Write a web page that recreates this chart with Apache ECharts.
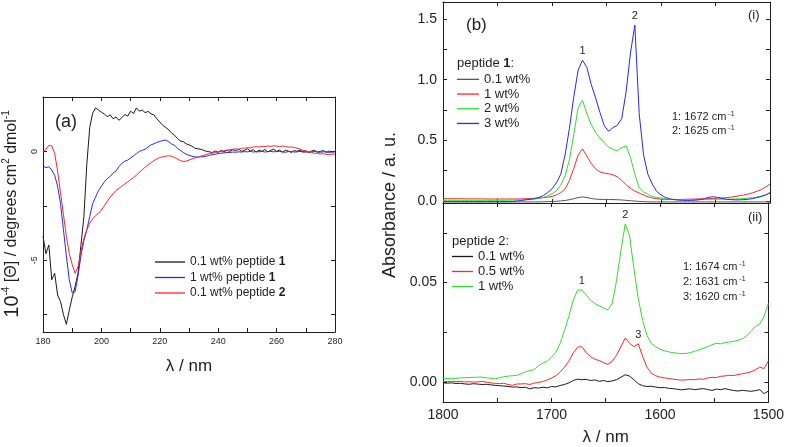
<!DOCTYPE html>
<html><head><meta charset="utf-8">
<script src="https://cdn.jsdelivr.net/npm/echarts@6/dist/echarts.min.js"></script>
<style>html,body{margin:0;padding:0;background:#fff}#c{width:787px;height:447px}</style>
</head><body><div id="c"></div>
<script>
// ---------- Panel (a): CD spectra ----------
const lambdaA = [180,181,182,183,184,185,186,187,188,189,
 190,191,192,193,194,195,196,197,198,199,
 200,201,202,203,204,205,206,207,208,209,
 210,211,212,213,214,215,216,217,218,219,
 220,221,222,223,224,225,226,227,228,229,
 230,231,232,233,234,235,236,237,238,239,
 240,241,242,243,244,245,246,247,248,249,
 250,251,252,253,254,255,256,257,258,259,
 260,261,262,263,264,265,266,267,268,269,
 270,271,272,273,274,275,276,277,278,279,280];
const cdBlack = [-3.9,-4.7,-4.3,-5.9,-5.6,-6.6,-6.9,-7.5,-7.95,-7.3,
 -6.7,-6.2,-5.6,-4.3,-3.0,-0.6,1.1,1.75,2.0,1.9,
 1.8,1.72,1.6,1.68,1.5,1.58,1.43,1.55,1.7,1.62,
 1.85,1.74,2.0,1.85,1.9,1.78,1.84,1.72,1.68,1.5,
 1.35,1.2,1.1,1.0,0.85,0.75,0.6,0.48,0.45,0.35,
 0.3,0.24,0.15,0.12,0.1,0.05,0.0,-0.02,-0.05,0.02,
 -0.05,0.05,-0.03,0.06,0.0,0.08,0.03,0.1,0.0,0.05,
 0.12,0.02,0.08,-0.03,0.06,0.0,0.09,-0.02,0.05,0.1,
 0.0,0.06,-0.04,0.05,0.02,-0.05,0.04,0.0,0.06,-0.03,
 0.03,-0.06,0.02,0.05,-0.04,0.0,0.04,-0.05,0.02,-0.03,0.0];
const cdBlue = [-0.65,-0.75,-0.7,-0.85,-1.1,-1.6,-2.4,-3.6,-4.8,-5.9,
 -6.5,-6.45,-5.7,-4.8,-4.1,-3.6,-3.0,-2.4,-2.1,-1.8,
 -1.6,-1.4,-1.25,-1.15,-1.0,-0.9,-0.7,-0.55,-0.45,-0.4,
 -0.3,-0.2,-0.1,0.0,0.05,0.1,0.2,0.3,0.35,0.42,
 0.45,0.5,0.52,0.45,0.35,0.28,0.15,0.05,-0.05,-0.12,
 -0.18,-0.22,-0.25,-0.26,-0.25,-0.24,-0.22,-0.18,-0.15,-0.13,
 -0.1,-0.08,-0.07,-0.05,-0.05,-0.03,-0.04,-0.02,-0.03,-0.01,
 -0.02,0.0,-0.03,-0.01,-0.02,0.0,-0.03,-0.01,0.0,-0.02,
 -0.01,0.0,-0.02,-0.04,-0.01,0.0,-0.03,-0.02,0.0,-0.02,
 -0.04,-0.01,-0.03,0.0,-0.02,-0.04,-0.02,-0.01,-0.05,-0.02,-0.03];
const cdRed = [0.0,0.1,0.28,0.25,-0.1,-0.9,-1.9,-2.9,-3.9,-4.7,
 -5.2,-5.6,-5.3,-4.6,-4.0,-3.6,-3.3,-3.1,-2.95,-2.85,
 -2.7,-2.5,-2.3,-2.1,-1.95,-1.8,-1.7,-1.6,-1.5,-1.4,
 -1.3,-1.2,-1.1,-0.95,-0.85,-0.72,-0.62,-0.52,-0.42,-0.35,
 -0.28,-0.25,-0.22,-0.2,-0.22,-0.28,-0.35,-0.42,-0.46,-0.45,
 -0.4,-0.35,-0.3,-0.27,-0.22,-0.18,-0.14,-0.1,-0.08,-0.05,
 -0.02,0.0,0.03,0.05,0.08,0.1,0.12,0.1,0.14,0.15,
 0.17,0.16,0.2,0.22,0.2,0.24,0.22,0.25,0.23,0.26,
 0.24,0.22,0.25,0.22,0.2,0.2,0.18,0.15,0.1,0.05,
 0.02,-0.02,-0.05,-0.08,-0.1,-0.12,-0.1,-0.14,-0.15,-0.12,-0.13];
const namesA = ['0.1 wt% peptide 1','1 wt% peptide 1','0.1 wt% peptide 2'];
const xLabelsA = [180,200,220,240,260,280];
const xTicksA = [180,190,200,210,220,230,240,250,260,270,280];
const yLabelsA = [-5,0];
const yTicksA = [-7.5,-5,-2.5,0,2.5];

// ---------- Panel (b): IR spectra ----------
const wnB = [1800,1796,1792,1788,1784,1780,1776,1772,1768,1764,
 1760,1756,1752,1748,1744,1740,1736,1732,1728,1724,
 1720,1716,1712,1708,1704,1700,1696,1692,1688,1684,
 1680,1676,1672,1668,1664,1660,1656,1652,1648,1644,
 1640,1636,1632,1628,1624,1620,1616,1612,1608,1604,
 1600,1596,1592,1588,1584,1580,1576,1572,1568,1564,
 1560,1556,1552,1548,1544,1540,1536,1532,1528,1524,
 1520,1516,1512,1508,1504,1500];
const ir1Black = [-0.007,-0.007,-0.007,-0.007,-0.007,-0.007,-0.007,-0.007,-0.007,-0.007,
 -0.007,-0.007,-0.007,-0.007,-0.007,-0.007,-0.007,-0.007,-0.007,-0.007,
 -0.007,-0.007,-0.007,-0.006,-0.005,-0.004,-0.002,0.001,0.005,0.011,
 0.019,0.029,0.034,0.029,0.021,0.016,0.014,0.013,0.013,0.012,
 0.011,0.009,0.006,0.003,0.0,-0.003,-0.005,-0.006,-0.007,-0.007,
 -0.007,-0.007,-0.007,-0.007,-0.007,-0.007,-0.007,-0.007,-0.007,-0.007,
 -0.007,-0.007,-0.007,-0.007,-0.007,-0.007,-0.007,-0.007,-0.007,-0.007,
 -0.007,-0.007,-0.007,-0.007,-0.007,-0.007];
const ir1Red = [0.02,0.02,0.019,0.019,0.019,0.018,0.018,0.018,0.018,0.018,
 0.017,0.017,0.017,0.017,0.017,0.017,0.017,0.017,0.018,0.019,
 0.02,0.022,0.025,0.028,0.032,0.038,0.05,0.07,0.1,0.17,
 0.27,0.38,0.43,0.37,0.31,0.265,0.24,0.23,0.225,0.215,
 0.2,0.17,0.135,0.105,0.082,0.066,0.05,0.035,0.026,0.02,
 0.016,0.014,0.013,0.013,0.013,0.014,0.015,0.016,0.017,0.018,
 0.019,0.02,0.021,0.023,0.025,0.028,0.032,0.037,0.043,0.05,
 0.058,0.068,0.08,0.095,0.115,0.14];
const ir1Green = [0.006,0.006,0.006,0.006,0.006,0.006,0.006,0.006,0.006,0.006,
 0.006,0.006,0.006,0.006,0.006,0.007,0.008,0.009,0.01,0.012,
 0.014,0.017,0.021,0.03,0.042,0.06,0.085,0.13,0.21,0.34,
 0.55,0.77,0.83,0.72,0.63,0.565,0.52,0.48,0.445,0.425,
 0.415,0.44,0.455,0.36,0.22,0.11,0.075,0.055,0.037,0.03,
 0.025,0.02,0.015,0.012,0.01,0.01,0.01,0.01,0.011,0.012,
 0.013,0.014,0.015,0.015,0.015,0.015,0.016,0.017,0.019,0.021,
 0.024,0.028,0.033,0.04,0.05,0.065];
const ir1Blue = [-0.005,-0.005,-0.005,-0.005,-0.005,-0.005,-0.005,-0.005,-0.005,-0.005,
 -0.005,-0.005,-0.005,-0.005,-0.005,-0.005,-0.003,0.0,0.005,0.01,
 0.015,0.02,0.03,0.045,0.07,0.1,0.15,0.22,0.38,0.6,
 0.86,1.08,1.16,1.1,0.96,0.85,0.73,0.62,0.575,0.605,
 0.625,0.68,0.9,1.22,1.45,0.72,0.38,0.22,0.14,0.08,
 0.05,0.03,0.018,0.012,0.008,0.006,0.005,0.006,0.008,0.012,
 0.02,0.032,0.035,0.03,0.022,0.015,0.012,0.01,0.01,0.012,
 0.015,0.02,0.028,0.038,0.05,0.07];
const ir2Black = [-0.0004,-0.0005,-0.0004,-0.0007,-0.0006,-0.0009,-0.0011,-0.0008,-0.001,-0.0012,
 -0.0011,-0.0014,-0.0016,-0.0018,-0.002,-0.0022,-0.0025,-0.0024,-0.0028,-0.0026,
 -0.0034,-0.0028,-0.003,-0.0026,-0.0029,-0.0022,-0.0024,-0.0017,-0.0012,-0.0004,
 0.0008,0.0015,0.0012,0.0014,0.0008,0.0011,0.0004,0.0008,0.0002,0.0006,
 0.0012,0.0024,0.0037,0.003,0.0012,-0.0008,-0.0018,-0.0022,-0.0021,-0.0025,
 -0.0028,-0.0027,-0.0031,-0.0033,-0.0036,-0.0039,-0.0036,-0.0034,-0.0038,-0.0035,
 -0.0033,-0.0037,-0.0042,-0.0035,-0.0038,-0.0033,-0.0038,-0.0042,-0.0045,-0.0041,
 -0.0044,-0.0046,-0.0043,-0.0038,-0.0058,-0.0045];
const ir2Red = [0.0003,0.0002,0.0004,0.0002,0.0003,0.0001,0.0002,0.0,0.0001,0.0003,
 0.0,-0.0004,-0.0006,-0.0008,-0.0006,-0.0012,-0.0016,-0.001,-0.0009,-0.0008,
 -0.0012,-0.0005,-0.0002,0.0003,0.001,0.002,0.0032,0.005,0.0075,0.0105,
 0.0145,0.0175,0.0178,0.0148,0.0128,0.0115,0.0108,0.0098,0.0089,0.0105,
 0.0135,0.0178,0.0222,0.0195,0.0178,0.0192,0.013,0.0075,0.0045,0.0032,
 0.0025,0.0021,0.0018,0.0015,0.0012,0.001,0.0011,0.0013,0.0012,0.0016,
 0.0014,0.0021,0.0024,0.0023,0.0029,0.0031,0.0034,0.0033,0.0038,0.0042,
 0.0046,0.0052,0.0062,0.0075,0.0068,0.0107];
const ir2Green = [0.0017,0.0018,0.0017,0.0019,0.0021,0.0022,0.0023,0.0024,0.0025,0.0025,
 0.0022,0.0019,0.0016,0.0022,0.0027,0.003,0.0032,0.0034,0.0042,0.0052,
 0.0058,0.0062,0.0083,0.0095,0.0105,0.0125,0.015,0.0195,0.026,0.033,
 0.041,0.0462,0.0463,0.0438,0.0412,0.0395,0.0383,0.0372,0.0362,0.0395,
 0.051,0.066,0.0795,0.0735,0.057,0.042,0.031,0.0235,0.0195,0.0178,
 0.0165,0.0158,0.0152,0.0148,0.0145,0.0143,0.0144,0.0148,0.0155,0.0162,
 0.017,0.0178,0.0188,0.0195,0.0192,0.0198,0.0202,0.0205,0.021,0.0218,
 0.0232,0.0255,0.028,0.0292,0.033,0.0396];
const namesB1 = ['0.1 wt%','1 wt%','2 wt%','3 wt%'];
const namesB2 = ['0.1 wt%','0.5 wt%','1 wt%'];
const peaksB1 = [{label:'1', wn:1672}, {label:'2', wn:1624}];
const peaksB2 = [{label:'1', wn:1672, s:'green'}, {label:'2', wn:1632, s:'green'}, {label:'3', wn:1620, s:'red'}];
const notesB1 = ['1: 1672 cm', '2: 1625 cm'];
const notesB2 = ['1: 1674 cm', '2: 1631 cm', '3: 1620 cm'];
const xLabelsB = [1800,1700,1600,1500];
const xTicksB = [1800,1750,1700,1650,1600,1550,1500];
const yLabelsB1 = [0,0.5,1.0,1.5];
const yTicksB1 = [0,0.25,0.5,0.75,1.0,1.25,1.5];
const yLabelsB2 = [0,0.05];
const yTicksB2 = [0,0.025,0.05,0.075];

// ---------- build ----------
const FONT = "'Liberation Sans', Arial, sans-serif";
const INK = '#1e1e1e';
const C = {black:'#1a1a1a', gray:'#555555', red:'#ff2626', blue:'#2626ff', green:'#2ee02e'};
const pairs = (xs, ys) => xs.map((x, i) => [x, ys[i]]);

function axis(opt) {
  return {
    type: 'value', gridIndex: opt.grid, position: opt.pos, min: opt.min, max: opt.max,
    inverse: !!opt.inverse,
    axisLine: {show: true, onZero: false, lineStyle: {color: INK, width: 1}},
    axisTick: {show: true, inside: true, length: 4, customValues: opt.ticks, lineStyle: {color: INK, width: 1}},
    axisLabel: opt.labels ? {show: true, customValues: opt.labels, fontSize: opt.fs, fontFamily: FONT, color: INK,
      margin: opt.margin, rotate: opt.rotate || 0, formatter: opt.fmt || (v => String(v))} : {show: false},
    splitLine: {show: false}
  };
}

const xAxes = [
  axis({grid:0, pos:'bottom', min:180, max:280, ticks:xTicksA, labels:xLabelsA, fs:9, margin:5}),
  axis({grid:0, pos:'top', min:180, max:280, ticks:xTicksA}),
  axis({grid:1, pos:'bottom', min:1500, max:1800, inverse:true, ticks:xTicksB}),
  axis({grid:1, pos:'top', min:1500, max:1800, inverse:true, ticks:xTicksB}),
  axis({grid:2, pos:'bottom', min:1500, max:1800, inverse:true, ticks:xTicksB, labels:xLabelsB, fs:14, margin:6}),
  axis({grid:2, pos:'top', min:1500, max:1800, inverse:true, ticks:xTicksB})
];
xAxes[0].name = 'λ / nm'; xAxes[0].nameLocation = 'middle'; xAxes[0].nameGap = 26;
xAxes[0].nameTextStyle = {fontSize: 17, fontFamily: FONT, color: INK};
xAxes[4].name = 'λ / nm'; xAxes[4].nameLocation = 'middle'; xAxes[4].nameGap = 27;
xAxes[4].nameTextStyle = {fontSize: 17, fontFamily: FONT, color: INK};

const yAxes = [
  axis({grid:0, pos:'left', min:-8.3, max:2.5, ticks:yTicksA, labels:yLabelsA, fs:9, margin:4, rotate:90}),
  axis({grid:0, pos:'right', min:-8.3, max:2.5, ticks:yTicksA}),
  axis({grid:1, pos:'left', min:-0.016, max:1.64, ticks:yTicksB1, labels:yLabelsB1, fs:14, margin:6, fmt: v => v.toFixed(1)}),
  axis({grid:1, pos:'right', min:-0.016, max:1.64, ticks:yTicksB1}),
  axis({grid:2, pos:'left', min:-0.01, max:0.09, ticks:yTicksB2, labels:yLabelsB2, fs:14, margin:6, fmt: v => v.toFixed(2)}),
  axis({grid:2, pos:'right', min:-0.01, max:0.09, ticks:yTicksB2})
];

function line(name, xi, yi, xs, ys, color, extra) {
  return Object.assign({
    type: 'line', name: name, xAxisIndex: xi, yAxisIndex: yi, data: pairs(xs, ys),
    symbol: 'none', showSymbol: false, smooth: false,
    lineStyle: {color: color, width: 1}, itemStyle: {color: color}, z: 3
  }, extra || {});
}

const lookup = (arr, wn) => arr[wnB.indexOf(wn)];
const markLbl = {show: true, position: 'top', distance: 3, formatter: '{b}', fontSize: 11, fontFamily: FONT, color: INK};
const seriesB1 = {black: ir1Black, red: ir1Red, green: ir1Green, blue: ir1Blue};
const seriesB2 = {black: ir2Black, red: ir2Red, green: ir2Green};
function peakMarks(list, src, which) {
  return {
    symbol: 'circle', symbolSize: 1, itemStyle: {color: 'rgba(0,0,0,0)'}, label: markLbl, silent: true,
    data: list.filter(p => (p.s || 'blue') === which).map(p => ({name: p.label, coord: [p.wn, lookup(src[which], p.wn)]}))
  };
}

const series = [
  line('A0', 0, 0, lambdaA, cdBlack, C.black),
  line('A1', 0, 0, lambdaA, cdBlue, C.blue),
  line('A2', 0, 0, lambdaA, cdRed, C.red),
  line('B1_0', 2, 2, wnB, ir1Black, C.gray),
  line('B1_1', 2, 2, wnB, ir1Red, C.red),
  line('B1_2', 2, 2, wnB, ir1Green, C.green),
  line('B1_3', 2, 2, wnB, ir1Blue, C.blue, {markPoint: peakMarks(peaksB1, seriesB1, 'blue')}),
  line('B2_0', 4, 4, wnB, ir2Black, C.black),
  line('B2_1', 4, 4, wnB, ir2Red, C.red, {markPoint: peakMarks(peaksB2, seriesB2, 'red')}),
  line('B2_2', 4, 4, wnB, ir2Green, C.green, {markPoint: peakMarks(peaksB2, seriesB2, 'green')})
];

const legendBase = {orient: 'vertical', selectedMode: false, padding: 0, icon: 'rect', itemHeight: 1.3,
  textStyle: {fontFamily: FONT, color: INK}};
const legends = [
  Object.assign({}, legendBase, {
    data: ['A0','A1','A2'], left: 155, top: 255, itemWidth: 30, itemGap: 1.5,
    formatter: n => { const m = namesA[+n.slice(1)].match(/^(.*peptide )(\d)$/); return '{t|' + m[1] + '}{b|' + m[2] + '}'; },
    textStyle: {fontFamily: FONT, color: INK, fontSize: 12, lineHeight: 14, rich: {t: {fontSize: 12, lineHeight: 14, fontFamily: FONT, color: INK}, b: {fontSize: 12, lineHeight: 14, fontWeight: 'bold', fontFamily: FONT, color: INK}}}
  }),
  Object.assign({}, legendBase, {
    data: ['B1_0','B1_1','B1_2','B1_3'], left: 457, top: 72, itemWidth: 22, itemGap: 0,
    formatter: n => namesB1[+n.split('_')[1]],
    textStyle: {fontFamily: FONT, color: INK, fontSize: 13, lineHeight: 14.7}
  }),
  Object.assign({}, legendBase, {
    data: ['B2_0','B2_1','B2_2'], left: 452, top: 249, itemWidth: 21, itemGap: 0,
    formatter: n => namesB2[+n.split('_')[1]],
    textStyle: {fontFamily: FONT, color: INK, fontSize: 13, lineHeight: 15}
  })
];

function txt(x, y, text, fs, extra) {
  return Object.assign({type: 'text', x: x, y: y, z: 10, silent: true,
    style: {text: text, fontSize: fs, fontFamily: FONT, fill: INK, align: 'left', verticalAlign: 'middle'}}, extra || {});
}
const supRich = {
  n: {fontSize: 11, fontFamily: FONT, fill: INK, color: INK},
  s: {fontSize: 7, fontFamily: FONT, fill: INK, color: INK, verticalAlign: 'top', lineHeight: 12}
};
const graphics = [
  txt(55, 122, '(a)', 18),
  txt(466, 25, '(b)', 17),
  txt(748, 15, '(i)', 13),
  txt(748, 217, '(ii)', 13),
  {type: 'text', x: 457, y: 63, silent: true, style: {text: '{n|peptide }{b|1}{n|:}', fontFamily: FONT, verticalAlign: 'middle',
    rich: {n: {fontSize: 13, fontFamily: FONT, fill: INK}, b: {fontSize: 13, fontWeight: 'bold', fontFamily: FONT, fill: INK}}}},
  txt(452, 241, 'peptide 2:', 13),
  {type: 'text', x: 12, y: 214, rotation: Math.PI / 2, silent: true,
    style: {text: '{big|10}{s|-4}{n| [Θ] / degrees cm}{s|2}{n| dmol}{s|-1}', align: 'center', verticalAlign: 'middle',
      rich: {big: {fontSize: 20, fontFamily: FONT, fill: INK, lineHeight: 22},
             n: {fontSize: 16, fontFamily: FONT, fill: INK, lineHeight: 22},
             s: {fontSize: 10, fontFamily: FONT, fill: INK, verticalAlign: 'top', lineHeight: 22}}}},
  {type: 'text', x: 390, y: 205, rotation: Math.PI / 2, silent: true,
    style: {text: 'Absorbance / a. u.', fontSize: 18, fontFamily: FONT, fill: INK, align: 'center', verticalAlign: 'middle'}}
];
notesB1.forEach((t, i) => graphics.push({type: 'text', x: 672, y: 117 + i * 13.5, silent: true,
  style: {text: '{n|' + t + '}{s| -1}', verticalAlign: 'middle', rich: supRich}}));
notesB2.forEach((t, i) => graphics.push({type: 'text', x: 683, y: 267 + i * 15, silent: true,
  style: {text: '{n|' + t + '}{s| -1}', verticalAlign: 'middle', rich: supRich}}));

const chart = echarts.init(document.getElementById('c'), null, {renderer: 'canvas', width: 787, height: 447});
chart.setOption({
  animation: false,
  backgroundColor: '#ffffff',
  grid: [
    {left: 43, top: 97, width: 292, height: 235},
    {left: 443, top: 2, width: 327, height: 201},
    {left: 443, top: 203, width: 327, height: 201}
  ],
  xAxis: xAxes,
  yAxis: yAxes,
  legend: legends,
  series: series,
  graphic: graphics
});
</script>
</body></html>
